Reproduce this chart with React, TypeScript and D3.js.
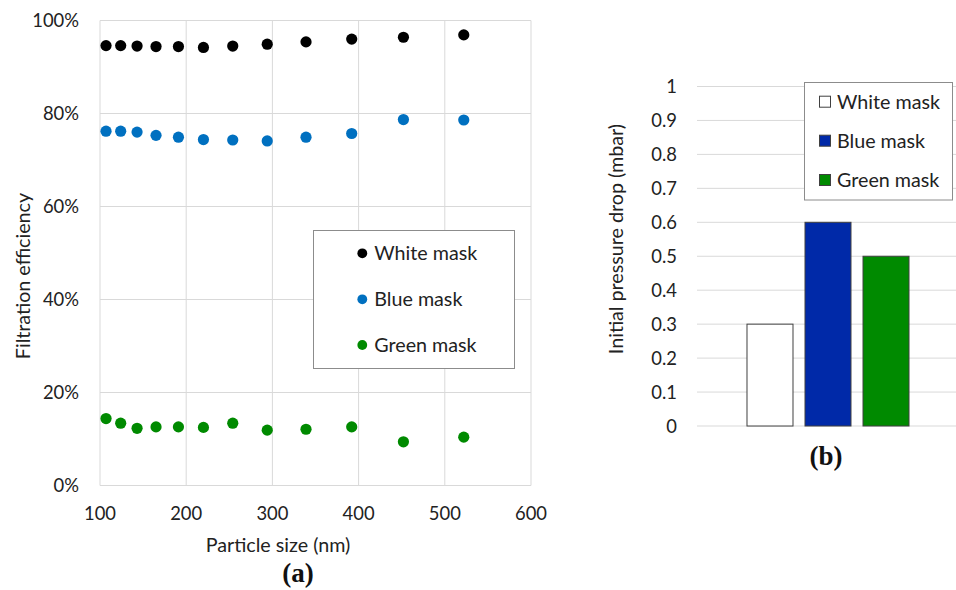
import React, { useEffect, useRef } from "react";
import * as d3 from "d3";

// particle size bins (nm)
const sizes = [107, 124, 143, 165, 191, 220, 254, 294, 339, 392, 452, 522];
const whiteEff = [94.6, 94.6, 94.5, 94.4, 94.4, 94.2, 94.5, 94.9, 95.4, 96.0, 96.4, 96.9];
const blueEff = [76.2, 76.2, 76.0, 75.3, 74.9, 74.4, 74.3, 74.1, 74.9, 75.7, 78.7, 78.6];
const greenEff = [14.4, 13.4, 12.3, 12.6, 12.6, 12.5, 13.4, 11.9, 12.1, 12.6, 9.4, 10.4];

const masks = ["White mask", "Blue mask", "Green mask"];
const dotColors = ["#000000", "#0070C0", "#008A00"];
const barColors = ["#ffffff", "#0029A8", "#008A00"];
const pressureDrop = [0.3, 0.6, 0.5];

const xTicks = [100, 200, 300, 400, 500, 600];
const yTicks = [0, 20, 40, 60, 80, 100];
const pTicks = [0, 0.1, 0.2, 0.3, 0.4, 0.5, 0.6, 0.7, 0.8, 0.9, 1];

const FONT = "Lato, 'Open Sans', sans-serif";
const SERIF = "'Liberation Serif', 'DejaVu Serif', serif";
const GRID = "#d9d9d9";
const TICK = 18.4;
const LABEL = 19.7;

export default function App() {
  const ref = useRef<SVGSVGElement>(null);

  useEffect(() => {
    const svg = d3.select(ref.current);
    svg.selectAll("*").remove();

    // ---- (a) scatter ----
    const x = d3.scaleLinear().domain([100, 600]).range([100, 531]);
    const y = d3.scaleLinear().domain([0, 100]).range([485.5, 20.5]);
    const a = svg.append("g").attr("font-family", FONT).attr("fill", "#222");

    a.append("g").selectAll("line").data(xTicks).join("line")
      .attr("x1", d => x(d)).attr("x2", d => x(d))
      .attr("y1", y(0)).attr("y2", y(100))
      .attr("stroke", GRID).attr("stroke-width", 1);
    a.append("g").selectAll("line").data(yTicks).join("line")
      .attr("x1", x(100)).attr("x2", x(600))
      .attr("y1", d => y(d)).attr("y2", d => y(d))
      .attr("stroke", GRID).attr("stroke-width", 1);

    a.append("g").selectAll("text").data(yTicks).join("text")
      .attr("x", 79).attr("y", d => y(d)).attr("dy", "0.36em")
      .attr("text-anchor", "end").attr("font-size", TICK)
      .text(d => d + "%");
    a.append("g").selectAll("text").data(xTicks).join("text")
      .attr("x", d => x(d)).attr("y", 520)
      .attr("text-anchor", "middle").attr("font-size", TICK)
      .text(d => d);

    a.append("text").attr("x", 278).attr("y", 551.5)
      .attr("text-anchor", "middle").attr("font-size", LABEL).text("Particle size (nm)");
    a.append("text").attr("transform", `translate(23,276) rotate(-90)`)
      .attr("dy", "0.36em").attr("text-anchor", "middle").attr("font-size", LABEL)
      .text("Filtration efficiency");

    const series = [whiteEff, blueEff, greenEff];
    series.forEach((vals, i) => {
      a.append("g").selectAll("circle").data(vals).join("circle")
        .attr("cx", (_, j) => x(sizes[j])).attr("cy", d => y(d))
        .attr("r", 5.6).attr("fill", dotColors[i]);
    });

    // legend (a)
    a.append("rect").attr("x", 313.5).attr("y", 230.5).attr("width", 201).attr("height", 138)
      .attr("fill", "#fff").attr("stroke", "#8c8c8c").attr("stroke-width", 1);
    const rowsA = [253.3, 299.3, 345];
    masks.forEach((m, i) => {
      a.append("circle").attr("cx", 362.3).attr("cy", rowsA[i]).attr("r", 4.9).attr("fill", dotColors[i]);
      a.append("text").attr("x", 374.3).attr("y", rowsA[i]).attr("dy", "0.36em")
        .attr("font-size", LABEL).text(m);
    });

    a.append("text").attr("x", 298).attr("y", 581.5)
      .attr("text-anchor", "middle").attr("font-family", SERIF)
      .attr("font-weight", "bold").attr("font-size", 27).attr("fill", "#111").text("(a)");

    // ---- (b) bars ----
    const py = d3.scaleLinear().domain([0, 1]).range([426, 86.5]);
    const x0 = d3.scaleBand().domain(["all"]).range([697, 959]).paddingOuter(0.3086).paddingInner(0);
    const x1 = d3.scaleBand().domain(masks).range([0, x0.bandwidth()]).paddingInner(0.207).paddingOuter(0);
    const b = svg.append("g").attr("font-family", FONT).attr("fill", "#222");

    b.append("g").selectAll("line").data(pTicks).join("line")
      .attr("x1", 697).attr("x2", 956)
      .attr("y1", d => py(d)).attr("y2", d => py(d))
      .attr("stroke", GRID).attr("stroke-width", 1);
    b.append("g").selectAll("text").data(pTicks).join("text")
      .attr("x", 677).attr("y", d => py(d)).attr("dy", "0.36em")
      .attr("text-anchor", "end").attr("font-size", TICK)
      .text(d => d3.format("~g")(d));
    b.append("text").attr("transform", `translate(616,239) rotate(-90)`)
      .attr("dy", "0.36em").attr("text-anchor", "middle").attr("font-size", LABEL)
      .text("Initial pressure drop (mbar)");

    b.append("g").selectAll("rect").data(pressureDrop).join("rect")
      .attr("x", (_, i) => (x0("all") as number) + (x1(masks[i]) as number))
      .attr("y", d => py(d)).attr("width", x1.bandwidth())
      .attr("height", d => py(0) - py(d))
      .attr("fill", (_, i) => barColors[i]).attr("stroke", "#404040").attr("stroke-width", 1);

    // legend (b)
    b.append("rect").attr("x", 804.5).attr("y", 82.5).attr("width", 148).attr("height", 117.5)
      .attr("fill", "#fff").attr("stroke", "#8c8c8c").attr("stroke-width", 1);
    const rowsB = [101.7, 140.7, 180];
    masks.forEach((m, i) => {
      b.append("rect").attr("x", 819.5).attr("y", rowsB[i] - 5.5).attr("width", 11).attr("height", 11)
        .attr("fill", barColors[i]).attr("stroke", "#404040").attr("stroke-width", 1);
      b.append("text").attr("x", 837).attr("y", rowsB[i]).attr("dy", "0.36em")
        .attr("font-size", LABEL).text(m);
    });

    b.append("text").attr("x", 826).attr("y", 465)
      .attr("text-anchor", "middle").attr("font-family", SERIF)
      .attr("font-weight", "bold").attr("font-size", 27).attr("fill", "#111").text("(b)");
  }, []);

  return (
    <svg ref={ref} width={956} height={590}
      style={{ position: "absolute", left: 0, top: 0, background: "#fff" }} />
  );
}
